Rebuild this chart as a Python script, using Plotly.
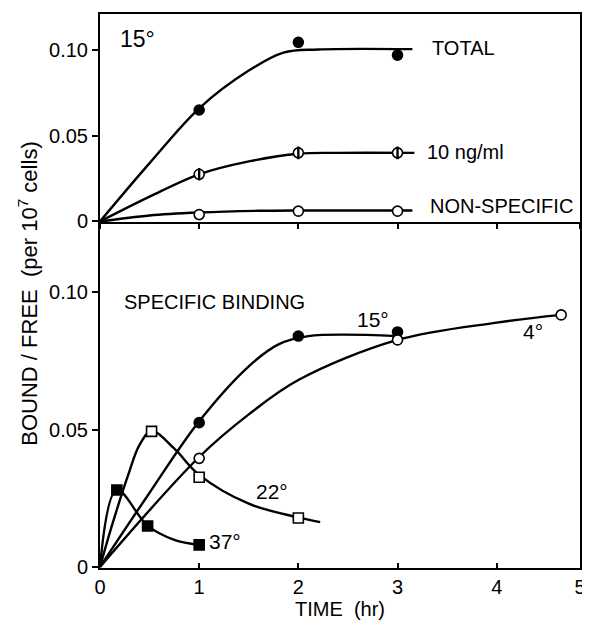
import plotly.graph_objects as go

# ---------------- data ----------------
# Top panel, 15 degrees
top_pts_x = [1, 2, 3]
total_pts = [0.065, 0.1045, 0.097]
ng10_pts = [0.0275, 0.040, 0.040]
nonspec_pts = [0.004, 0.006, 0.006]

total_curve_x = [0, 0.5, 1.0, 1.5, 1.85, 2.2, 3.15]
total_curve_y = [0, 0.034, 0.066, 0.088, 0.0985, 0.1003, 0.1005]
ng10_curve_x = [0, 0.5, 1.0, 1.5, 2.0, 2.4, 3.17]
ng10_curve_y = [0, 0.0145, 0.0275, 0.035, 0.0395, 0.040, 0.040]
nonspec_curve_x = [0, 0.5, 1.0, 1.6, 2.0, 3.15]
nonspec_curve_y = [0, 0.0035, 0.0052, 0.0062, 0.0064, 0.0064]

# Bottom panel, specific binding
spec15_x = [1, 2, 3]
spec15_y = [0.0525, 0.084, 0.0855]
spec15_curve_x = [0, 0.5, 1.0, 1.5, 1.8, 2.1, 3.0]
spec15_curve_y = [0, 0.027, 0.053, 0.073, 0.081, 0.084, 0.084]

spec4_x = [1, 3, 4.65]
spec4_y = [0.0395, 0.0826, 0.0917]
spec4_curve_x = [0, 1.0, 1.5, 2.0, 3.0, 4.0, 4.65]
spec4_curve_y = [0, 0.040, 0.0555, 0.068, 0.0826, 0.0889, 0.0917]

spec22_x = [0.52, 1, 2]
spec22_y = [0.0493, 0.0326, 0.0178]
spec22_curve_x = [0, 0.12, 0.28, 0.40, 0.52, 0.75, 1.0, 1.5, 2.0, 2.22]
spec22_curve_y = [0, 0.015, 0.033, 0.0445, 0.0495, 0.043, 0.0335, 0.023, 0.018, 0.0163]

spec37_x = [0.17, 0.48, 1.0]
spec37_y = [0.028, 0.0149, 0.008]
spec37_curve_x = [0, 0.17, 0.48, 0.75, 1.0]
spec37_curve_y = [0, 0.028, 0.015, 0.0098, 0.008]

x_tickvals = [0, 1, 2, 3, 4, 4.84]
x_ticktext = ["0", "1", "2", "3", "4", "5"]
y_tickvals = [0, 0.05, 0.10]
y_ticktext = ["0", "0.05", "0.10"]

FONT = "Liberation Sans, Arial, sans-serif"
LW = 2.4

fig = go.Figure()


def curve(x, y, xa, ya):
    fig.add_trace(go.Scatter(x=x, y=y, mode="lines", xaxis=xa, yaxis=ya,
                             line=dict(color="black", width=LW, shape="spline", smoothing=1.0),
                             showlegend=False, hoverinfo="skip"))


def pts(x, y, xa, ya, symbol, fill, size=10):
    fig.add_trace(go.Scatter(x=x, y=y, mode="markers", xaxis=xa, yaxis=ya,
                             marker=dict(symbol=symbol, size=size, color=fill,
                                         line=dict(color="black", width=1.6)),
                             showlegend=False))


# top panel
curve(total_curve_x, total_curve_y, "x2", "y2")
curve(ng10_curve_x, ng10_curve_y, "x2", "y2")
curve(nonspec_curve_x, nonspec_curve_y, "x2", "y2")
pts(top_pts_x, total_pts, "x2", "y2", "circle", "black")
pts(top_pts_x, ng10_pts, "x2", "y2", "circle", "white")
fig.add_trace(go.Scatter(x=top_pts_x, y=ng10_pts, mode="markers", xaxis="x2", yaxis="y2",
                         marker=dict(symbol="line-ns", size=9, line=dict(color="black", width=2.4)),
                         showlegend=False, hoverinfo="skip"))
pts(top_pts_x, nonspec_pts, "x2", "y2", "circle", "white")

# bottom panel
curve(spec15_curve_x, spec15_curve_y, "x", "y")
curve(spec4_curve_x, spec4_curve_y, "x", "y")
curve(spec22_curve_x, spec22_curve_y, "x", "y")
curve(spec37_curve_x, spec37_curve_y, "x", "y")
pts(spec15_x, spec15_y, "x", "y", "circle", "black")
pts(spec4_x, spec4_y, "x", "y", "circle", "white")
pts(spec22_x, spec22_y, "x", "y", "square", "white", 10)
pts(spec37_x, spec37_y, "x", "y", "square", "black", 10)

axis_common = dict(showgrid=False, zeroline=False, showline=True, linecolor="black",
                   linewidth=2, tickcolor="black", tickwidth=1.6,
                   tickfont=dict(family=FONT, size=20, color="black"))

split = 0.624
# the page body adds an 8 px offset, so the figure is sized/margined to compensate
fig.update_layout(
    width=582, height=615,
    margin=dict(l=92, r=6, t=4, b=55),
    paper_bgcolor="white", plot_bgcolor="white",
    xaxis=dict(domain=[0, 1], anchor="y", range=[0, 4.84], tickvals=x_tickvals,
               ticktext=x_ticktext, ticks="inside", ticklen=5, mirror=False,
               title=dict(text="TIME  (hr)", font=dict(family=FONT, size=20, color="black"), standoff=5),
               **axis_common),
    xaxis2=dict(domain=[0, 1], anchor="y2", range=[0, 4.84], matches="x", tickvals=x_tickvals,
                showticklabels=False, ticks="outside", ticklen=5, mirror=True, **axis_common),
    yaxis=dict(domain=[0, split], anchor="x", range=[-0.0004, 0.1254], tickvals=y_tickvals,
               ticktext=y_ticktext, ticks="outside", ticklen=6, mirror=True, **axis_common),
    yaxis2=dict(domain=[split, 1], anchor="x2", range=[-0.0005, 0.121], tickvals=y_tickvals,
                ticktext=y_ticktext, ticks="outside", ticklen=6, mirror=True, **axis_common),
)


def label(text, x, y, xa, ya, size=20, xanchor="center"):
    fig.add_annotation(text=text, x=x, y=y, xref=xa, yref=ya, showarrow=False,
                       xanchor=xanchor, yanchor="middle",
                       font=dict(family=FONT, size=size, color="black"))


label("15°", 0.38, 0.1067, "x2", "y2", size=23)
label("TOTAL", 3.33, 0.1009, "x2", "y2", xanchor="left")
label("10 ng/ml", 3.28, 0.0404, "x2", "y2", xanchor="left")
label("NON-SPECIFIC", 3.31, 0.009, "x2", "y2", xanchor="left")
label("SPECIFIC BINDING", 0.22, 0.0964, "x", "y", xanchor="left")
label("15°", 2.75, 0.0899, "x", "y", size=21)
label("4°", 4.37, 0.0855, "x", "y", size=21)
label("22°", 1.73, 0.0275, "x", "y", size=21)
label("37°", 1.26, 0.0094, "x", "y", size=21)

fig.add_annotation(text="BOUND / FREE  (per 10<sup>7</sup> cells)", x=-0.149, y=0.496,
                   xref="paper", yref="paper", showarrow=False, textangle=-90,
                   xanchor="center", yanchor="middle",
                   font=dict(family=FONT, size=22, color="black"))

fig.write_html("out.html")
